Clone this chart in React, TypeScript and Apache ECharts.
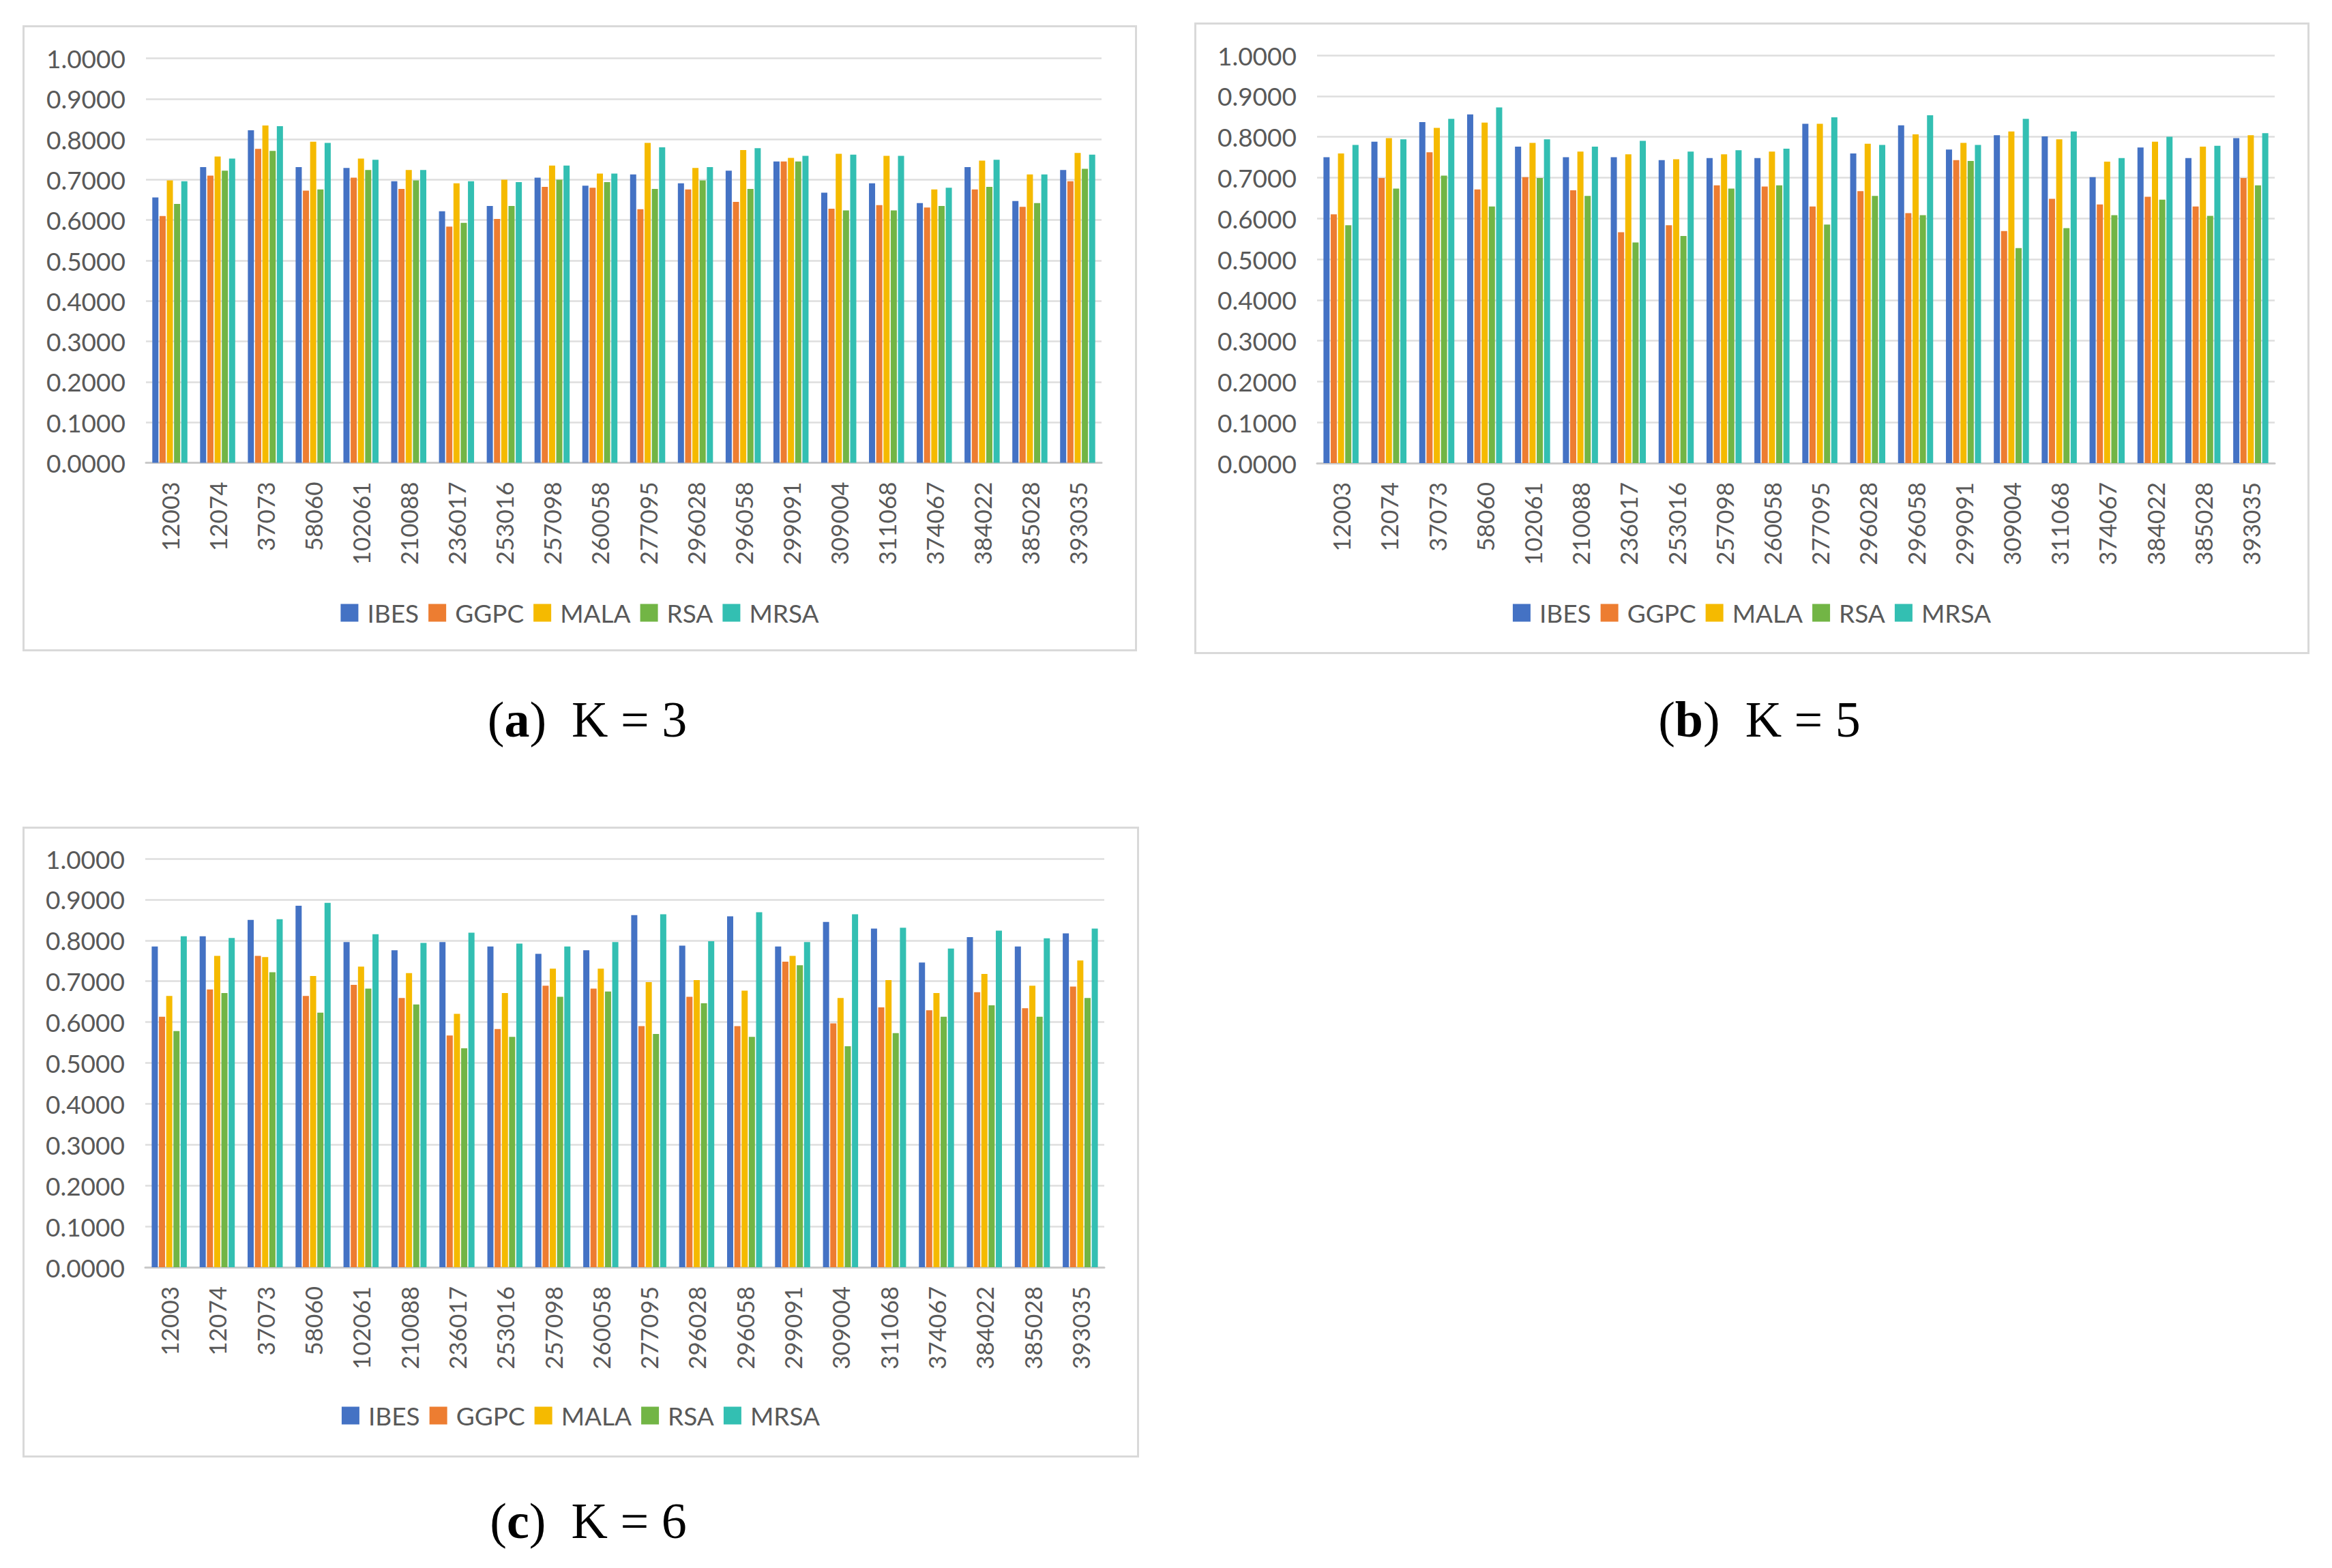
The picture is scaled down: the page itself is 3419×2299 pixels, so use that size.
import { useEffect, useRef } from "react";
import * as echarts from "echarts";

const CATEGORIES = [
  "12003", "12074", "37073", "58060", "102061", "210088", "236017", "253016", "257098", "260058",
  "277095", "296028", "296058", "299091", "309004", "311068", "374067", "384022", "385028", "393035",
];
const SERIES_NAMES = ["IBES", "GGPC", "MALA", "RSA", "MRSA"];
const COLORS = ["#4472C4", "#ED7D31", "#F5BA00", "#72B545", "#33BFB2"];
const Y_TICKS = [0, 0.1, 0.2, 0.3, 0.4, 0.5, 0.6, 0.7, 0.8, 0.9, 1.0];

// K = 3
const K3_IBES = [0.656, 0.731, 0.822, 0.731, 0.729, 0.696, 0.622, 0.635, 0.705, 0.685, 0.713, 0.691, 0.722, 0.745, 0.668, 0.691, 0.642, 0.731, 0.647, 0.724];
const K3_GGPC = [0.610, 0.710, 0.776, 0.673, 0.705, 0.677, 0.584, 0.603, 0.682, 0.680, 0.627, 0.676, 0.645, 0.745, 0.628, 0.637, 0.631, 0.676, 0.633, 0.696];
const K3_MALA = [0.698, 0.757, 0.834, 0.794, 0.752, 0.724, 0.691, 0.700, 0.735, 0.715, 0.791, 0.729, 0.773, 0.754, 0.764, 0.759, 0.676, 0.747, 0.713, 0.766];
const K3_RSA = [0.640, 0.722, 0.771, 0.676, 0.724, 0.698, 0.593, 0.635, 0.700, 0.694, 0.677, 0.698, 0.677, 0.745, 0.624, 0.624, 0.635, 0.682, 0.642, 0.727];
const K3_MRSA = [0.696, 0.752, 0.832, 0.791, 0.749, 0.724, 0.696, 0.694, 0.735, 0.715, 0.780, 0.731, 0.778, 0.759, 0.762, 0.759, 0.680, 0.749, 0.713, 0.762];

// K = 5
const K5_IBES = [0.750, 0.788, 0.836, 0.855, 0.776, 0.750, 0.750, 0.743, 0.748, 0.748, 0.832, 0.759, 0.828, 0.769, 0.804, 0.801, 0.701, 0.774, 0.748, 0.797];
const K5_GGPC = [0.610, 0.699, 0.762, 0.671, 0.701, 0.669, 0.566, 0.583, 0.681, 0.678, 0.629, 0.667, 0.613, 0.743, 0.569, 0.648, 0.634, 0.653, 0.629, 0.699];
const K5_MALA = [0.759, 0.797, 0.822, 0.835, 0.785, 0.764, 0.757, 0.745, 0.757, 0.764, 0.832, 0.783, 0.806, 0.785, 0.813, 0.794, 0.739, 0.788, 0.776, 0.804];
const K5_RSA = [0.583, 0.673, 0.705, 0.629, 0.699, 0.655, 0.541, 0.557, 0.673, 0.681, 0.585, 0.655, 0.608, 0.741, 0.527, 0.576, 0.608, 0.646, 0.606, 0.681];
const K5_MRSA = [0.780, 0.794, 0.844, 0.872, 0.794, 0.776, 0.790, 0.764, 0.767, 0.771, 0.848, 0.780, 0.853, 0.780, 0.844, 0.813, 0.748, 0.800, 0.778, 0.809];

// K = 6
const K6_IBES = [0.785, 0.810, 0.850, 0.885, 0.796, 0.776, 0.796, 0.785, 0.767, 0.776, 0.862, 0.787, 0.859, 0.785, 0.845, 0.829, 0.746, 0.808, 0.785, 0.817];
const K6_GGPC = [0.613, 0.680, 0.762, 0.664, 0.691, 0.659, 0.567, 0.583, 0.689, 0.682, 0.590, 0.662, 0.590, 0.748, 0.597, 0.636, 0.629, 0.673, 0.634, 0.687];
const K6_MALA = [0.664, 0.762, 0.759, 0.713, 0.736, 0.720, 0.620, 0.671, 0.731, 0.731, 0.698, 0.703, 0.677, 0.762, 0.659, 0.703, 0.671, 0.718, 0.689, 0.751];
const K6_RSA = [0.578, 0.671, 0.722, 0.623, 0.682, 0.643, 0.536, 0.564, 0.662, 0.675, 0.571, 0.646, 0.564, 0.739, 0.541, 0.573, 0.613, 0.641, 0.613, 0.659];
const K6_MRSA = [0.810, 0.806, 0.852, 0.892, 0.815, 0.794, 0.819, 0.792, 0.785, 0.796, 0.864, 0.798, 0.869, 0.796, 0.864, 0.831, 0.780, 0.824, 0.805, 0.829];

const LABEL_COLOR = "#595959";
const FONT = "Lato";
const CAPTION_SPACE = 160;

type PanelProps = {
  letter: string;
  k: string;
  values: number[][];
  left: number;
  top: number;
  width: number;
  frameHeight: number;
  grid: { left: number; right: number; top: number; bottom: number };
  legendMid: number;
  captionMid: number;
};

function Panel(p: PanelProps) {
  const ref = useRef<HTMLDivElement>(null);
  const height = p.frameHeight + CAPTION_SPACE;
  useEffect(() => {
    if (!ref.current) return;
    const chart = echarts.init(ref.current, undefined, { renderer: "svg" });
    const option: any = {
      animation: false,
      backgroundColor: "#ffffff",
      textStyle: { fontFamily: FONT },
      legend: {
        data: SERIES_NAMES,
        left: "center",
        top: p.legendMid - 19,
        icon: "rect",
        itemWidth: 26,
        itemHeight: 26,
        itemGap: 14,
        selectedMode: false,
        textStyle: { fontSize: 37, color: LABEL_COLOR, fontFamily: FONT, padding: [0, 0, 0, 8] },
      },
      grid: {
        left: p.grid.left,
        right: p.grid.right,
        top: p.grid.top,
        bottom: p.grid.bottom + CAPTION_SPACE,
        containLabel: false,
        outerBoundsMode: "none",
      },
      xAxis: {
        type: "category",
        data: CATEGORIES,
        axisLine: { lineStyle: { color: "#c9c9c9", width: 3 } },
        axisTick: { show: false },
        axisLabel: { rotate: 90, interval: 0, margin: 28, fontSize: 35, color: LABEL_COLOR, fontFamily: FONT },
      },
      yAxis: {
        type: "value",
        min: Y_TICKS[0],
        max: Y_TICKS[Y_TICKS.length - 1],
        interval: 0.1,
        axisLine: { show: false },
        axisTick: { show: false },
        axisLabel: {
          margin: 30,
          fontSize: 37,
          color: LABEL_COLOR,
          fontFamily: FONT,
          formatter: (v: number) => v.toFixed(4),
        },
        splitLine: { lineStyle: { color: "#dedede", width: 2.5 } },
      },
      series: SERIES_NAMES.map((name, i) => ({
        name,
        type: "bar",
        data: p.values[i],
        barWidth: 9,
        barGap: "18%",
        itemStyle: { color: COLORS[i] },
      })),
      graphic: [
        {
          type: "rect",
          silent: true,
          shape: { x: 1.5, y: 1.5, width: p.width - 3, height: p.frameHeight - 3 },
          style: { fill: "none", stroke: "#d9d9d9", lineWidth: 3 },
        },
        {
          type: "text",
          silent: true,
          x: p.width / 2 + 11,
          y: p.captionMid,
          style: {
            text: "({b|" + p.letter + "})\u2002K = " + p.k,
            fontFamily: "Liberation Serif",
            fontSize: 74,
            fill: "#000000",
            align: "center",
            verticalAlign: "middle",
            rich: {
              b: { fontFamily: "Liberation Serif", fontSize: 74, fontWeight: "bold", fill: "#000000" },
            },
          },
        },
      ],
    };
    chart.setOption(option);
    return () => chart.dispose();
  }, []);
  return (
    <div
      ref={ref}
      style={{ position: "absolute", left: p.left, top: p.top, width: p.width, height }}
    />
  );
}

export default function App() {
  return (
    <div style={{ position: "fixed", left: 0, top: 0, width: 3419, height: 2299, background: "#ffffff" }}>
      <Panel
        letter="a"
        k="3"
        values={[K3_IBES, K3_GGPC, K3_MALA, K3_RSA, K3_MRSA]}
        left={33}
        top={37}
        width={1634}
        frameHeight={918}
        grid={{ left: 181, right: 52, top: 48.5, bottom: 276.5 }}
        legendMid={857}
        captionMid={1018}
      />
      <Panel
        letter="b"
        k="5"
        values={[K5_IBES, K5_GGPC, K5_MALA, K5_RSA, K5_MRSA]}
        left={1751}
        top={33}
        width={1635}
        frameHeight={926}
        grid={{ left: 180, right: 51, top: 48, bottom: 280 }}
        legendMid={861}
        captionMid={1022}
      />
      <Panel
        letter="c"
        k="6"
        values={[K6_IBES, K6_GGPC, K6_MALA, K6_RSA, K6_MRSA]}
        left={33}
        top={1212}
        width={1637}
        frameHeight={925}
        grid={{ left: 180, right: 51, top: 47, bottom: 279 }}
        legendMid={859}
        captionMid={1018}
      />
    </div>
  );
}
